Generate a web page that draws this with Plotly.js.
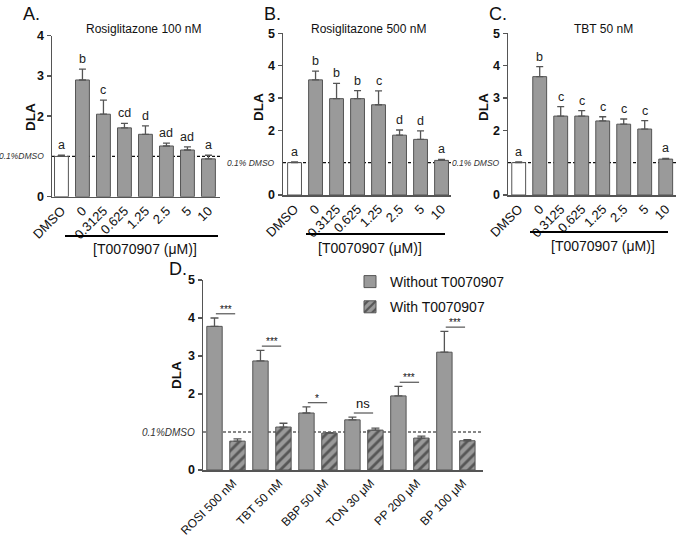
<!DOCTYPE html>
<html>
<head>
<meta charset="utf-8">
<script src="https://cdn.plot.ly/plotly-3.0.1.min.js"></script>
<style>html,body{margin:0;padding:0;background:#fff;}#chart{width:683px;height:536px;}</style>
</head>
<body>
<div id="chart"></div>
<script>
// ---------- data ----------
const doseCats = ['DMSO', '0', '0.3125', '0.625', '1.25', '2.5', '5', '10'];

const aValues = [1.00, 2.90, 2.05, 1.71, 1.55, 1.26, 1.16, 0.94];
const aErrors = [0.03, 0.27, 0.35, 0.11, 0.21, 0.07, 0.08, 0.09];
const aLetters = ['a', 'b', 'c', 'cd', 'd', 'ad', 'ad', 'a'];

const bValues = [1.00, 3.56, 2.98, 2.98, 2.79, 1.85, 1.72, 1.07];
const bErrors = [0.02, 0.27, 0.47, 0.25, 0.43, 0.16, 0.26, 0.03];
const bLetters = ['a', 'b', 'b', 'b', 'c', 'd', 'd', 'a'];

const cValues = [1.00, 3.66, 2.44, 2.44, 2.29, 2.19, 2.04, 1.11];
const cErrors = [0.02, 0.31, 0.29, 0.17, 0.13, 0.16, 0.26, 0.02];
const cLetters = ['a', 'b', 'c', 'c', 'c', 'c', 'c', 'a'];

const dCats = ['ROSI 500 nM', 'TBT 50 nM', 'BBP 50 μM', 'TON 30 μM', 'PP 200 μM', 'BP 100 μM'];
const dWithout = [3.78, 2.87, 1.50, 1.32, 1.95, 3.10];
const dWithoutErr = [0.22, 0.28, 0.16, 0.07, 0.25, 0.55];
const dWith = [0.76, 1.13, 0.97, 1.05, 0.84, 0.77];
const dWithErr = [0.06, 0.10, 0.01, 0.05, 0.05, 0.03];
const dSig = ['***', '***', '*', 'ns', '***', '***'];

const panelTitles = ['Rosiglitazone 100 nM', 'Rosiglitazone 500 nM', 'TBT 50 nM'];
const panelLetters = ['A.', 'B.', 'C.', 'D.'];
const seriesNames = ['Without T0070907', 'With T0070907'];
const doseAxisLabel = '[T0070907 (μM)]';
const yLabel = 'DLA';
const yTicksA = [0, 2, 3, 4];
const yTicksBCD = [0, 2, 3, 4, 5];

// ---------- styles ----------
const FONT = 'Liberation Sans, Arial, sans-serif';
const GREY = '#9a9a9a';
const EDGE = '#555555';
const AXC = '#555555';
const W = 683, H = 536;
const px = v => v / W;
const py = v => 1 - v / H;

const traces = [];
const annotations = [];
const shapes = [];

function doseTrace(vals, errs, xa, ya) {
  return {
    type: 'bar', x: doseCats, y: vals, xaxis: xa, yaxis: ya, showlegend: false,
    width: 0.66,
    marker: { color: doseCats.map((c, i) => i === 0 ? '#ffffff' : GREY), line: { color: EDGE, width: 1 } },
    error_y: { type: 'data', symmetric: false, array: errs, arrayminus: errs.map(() => 0),
               color: EDGE, thickness: 1.3, width: 3.5 },
    hoverinfo: 'x+y'
  };
}

const panels = [
  { vals: aValues, errs: aErrors, letters: aLetters, xa: 'x', ya: 'y' },
  { vals: bValues, errs: bErrors, letters: bLetters, xa: 'x2', ya: 'y2' },
  { vals: cValues, errs: cErrors, letters: cLetters, xa: 'x3', ya: 'y3' }
];
panels.forEach(p => {
  traces.push(doseTrace(p.vals, p.errs, p.xa, p.ya));
  p.letters.forEach((l, i) => {
    annotations.push({ xref: p.xa, yref: p.ya, x: i, y: p.vals[i] + p.errs[i], text: l,
      showarrow: false, xanchor: 'center', yanchor: 'bottom', yshift: 1,
      font: { family: FONT, size: 12.5, color: '#222' } });
  });
});

traces.push({
  type: 'bar', name: seriesNames[0], x: dCats, y: dWithout, xaxis: 'x4', yaxis: 'y4',
  legendgroup: 'g1',
  marker: { color: GREY, line: { color: EDGE, width: 1 } },
  error_y: { type: 'data', symmetric: false, array: dWithoutErr, arrayminus: dWithoutErr.map(() => 0),
             color: EDGE, thickness: 1.3, width: 4 }
});
traces.push({
  type: 'bar', name: seriesNames[1], x: dCats, y: dWith, xaxis: 'x4', yaxis: 'y4',
  legendgroup: 'g2',
  marker: { color: GREY, line: { color: EDGE, width: 1 },
            pattern: { shape: '/', fillmode: 'overlay', bgcolor: GREY, fgcolor: '#111111', size: 7, solidity: 0.4 } },
  error_y: { type: 'data', symmetric: false, array: dWithErr, arrayminus: dWithErr.map(() => 0),
             color: EDGE, thickness: 1.3, width: 4 }
});

// significance marks
dSig.forEach((s, i) => {
  const top = Math.max(dWithout[i] + dWithoutErr[i], dWith[i] + dWithErr[i]) + 0.11;
  shapes.push({ type: 'line', xref: 'x4', yref: 'y4', x0: i - 0.22, x1: i + 0.2, y0: top, y1: top,
                line: { color: '#333', width: 1 } });
  annotations.push({ xref: 'x4', yref: 'y4', x: i - 0.01, y: top, text: s, showarrow: false,
    xanchor: 'center', yanchor: 'bottom', yshift: s === 'ns' ? 0 : -3,
    font: { family: FONT, size: s === 'ns' ? 13 : 10, color: '#111111' } });
});

// dashed DMSO reference lines + labels
const refDefs = [
  { xa: 'x', ya: 'y', axisPx: 52, label: '0.1%DMSO', size: 8.5 },
  { xa: 'x2', ya: 'y2', axisPx: 283, label: '0.1% DMSO', size: 8.5 },
  { xa: 'x3', ya: 'y3', axisPx: 508, label: '0.1% DMSO', size: 8.5 },
  { xa: 'x4', ya: 'y4', axisPx: 203, label: '0.1%DMSO', size: 10 }
];
refDefs.forEach(r => {
  shapes.push({ type: 'line', xref: r.xa + ' domain', yref: r.ya, x0: 0, x1: 1, y0: 1, y1: 1,
                layer: 'below', line: { color: '#111', width: 1.2, dash: '3px,2px' } });
  annotations.push({ xref: 'paper', yref: r.ya, x: px(r.axisPx - 6), y: 1, text: '<i>' + r.label + '</i>',
    showarrow: false, xanchor: 'right', yanchor: 'middle', font: { family: FONT, size: r.size, color: '#333' } });
});

// y labels
const yLabelPos = [[30, 117], [258, 107], [483, 107], [176, 375]];
yLabelPos.forEach(p => {
  annotations.push({ xref: 'paper', yref: 'paper', x: px(p[0]), y: py(p[1]), text: '<b>' + yLabel + '</b>',
    textangle: -90, showarrow: false, xanchor: 'center', yanchor: 'middle',
    font: { family: FONT, size: 13.5, color: '#111' } });
});

// panel titles
const titleX = [143, 368, 603];
panelTitles.forEach((t, i) => {
  annotations.push({ xref: 'paper', yref: 'paper', x: px(titleX[i]), y: py(29), text: t, showarrow: false,
    xanchor: 'center', yanchor: 'middle', font: { family: FONT, size: 12, color: '#111' } });
});
// panel letters
const letterPos = [[21, 14], [262, 14], [487, 14], [167, 269]];
panelLetters.forEach((t, i) => {
  annotations.push({ xref: 'paper', yref: 'paper', x: px(letterPos[i][0]), y: py(letterPos[i][1]), text: t,
    showarrow: false, xanchor: 'left', yanchor: 'middle', font: { family: FONT, size: 18, color: '#111' } });
});
// dose axis brackets
const brackets = [[65, 218, 236, 145, 249], [306, 445, 234, 370, 248], [530, 668, 232, 603, 246]];
brackets.forEach(b => {
  shapes.push({ type: 'line', xref: 'paper', yref: 'paper', x0: px(b[0]), x1: px(b[1]), y0: py(b[2]), y1: py(b[2]),
                line: { color: '#000', width: 1.8 } });
  annotations.push({ xref: 'paper', yref: 'paper', x: px(b[3]), y: py(b[4]), text: doseAxisLabel,
    showarrow: false, xanchor: 'center', yanchor: 'middle', font: { family: FONT, size: 14, color: '#111' } });
});

function xAxis(dom, range, anchor, shift, fsize) {
  return {
    domain: dom, range: range, anchor: anchor, type: 'category', showline: true, linecolor: AXC, linewidth: 1.5,
    ticks: '', tickangle: -45, tickfont: { family: FONT, size: fsize || 13, color: '#111' },
    ticklabelshift: shift || 0,
    showgrid: false, zeroline: false, fixedrange: true
  };
}
function yAxis(dom, range, tickvals, anchor) {
  return {
    domain: dom, range: range, tickmode: 'array', tickvals: tickvals, anchor: anchor,
    showline: true, linecolor: AXC, linewidth: 1.5,
    ticks: 'outside', ticklen: 4, tickwidth: 1.5, tickcolor: AXC,
    tickfont: { family: FONT, size: 12.5, color: '#111', weight: 'bold' },
    showgrid: false, zeroline: false, fixedrange: true
  };
}

const layout = {
  width: W, height: H, margin: { l: 0, r: 0, t: 0, b: 0 },
  paper_bgcolor: '#fff', plot_bgcolor: 'rgba(0,0,0,0)',
  font: { family: FONT, color: '#111' },
  barmode: 'group', bargap: 0, bargroupgap: 0.33,
  xaxis: xAxis([px(52), px(220)], [-0.45, 7.55], 'y'),
  yaxis: yAxis([py(196.7), py(35.7)], [0, 4], yTicksA, 'x'),
  xaxis2: xAxis([px(283), px(451)], [-0.55, 7.45], 'y2'),
  yaxis2: yAxis([py(195), py(33.3)], [0, 5], yTicksBCD, 'x2'),
  xaxis3: xAxis([px(508), px(676)], [-0.51, 7.49], 'y3'),
  yaxis3: yAxis([py(195), py(33.3)], [0, 5], yTicksBCD, 'x3'),
  xaxis4: xAxis([px(203), px(483)], [-0.5, 5.59], 'y4', 7, 12),
  yaxis4: yAxis([py(470), py(280)], [0, 5], yTicksBCD, 'x4'),
  showlegend: true,
  legend: { x: px(350), y: py(266), xanchor: 'left', yanchor: 'top', bgcolor: 'rgba(0,0,0,0)',
            font: { family: FONT, size: 14, color: '#111' }, tracegroupgap: 4, itemwidth: 30 },
  annotations: annotations,
  shapes: shapes
};

Plotly.newPlot('chart', traces, layout, { displayModeBar: false, staticPlot: true });
</script>
</body>
</html>
